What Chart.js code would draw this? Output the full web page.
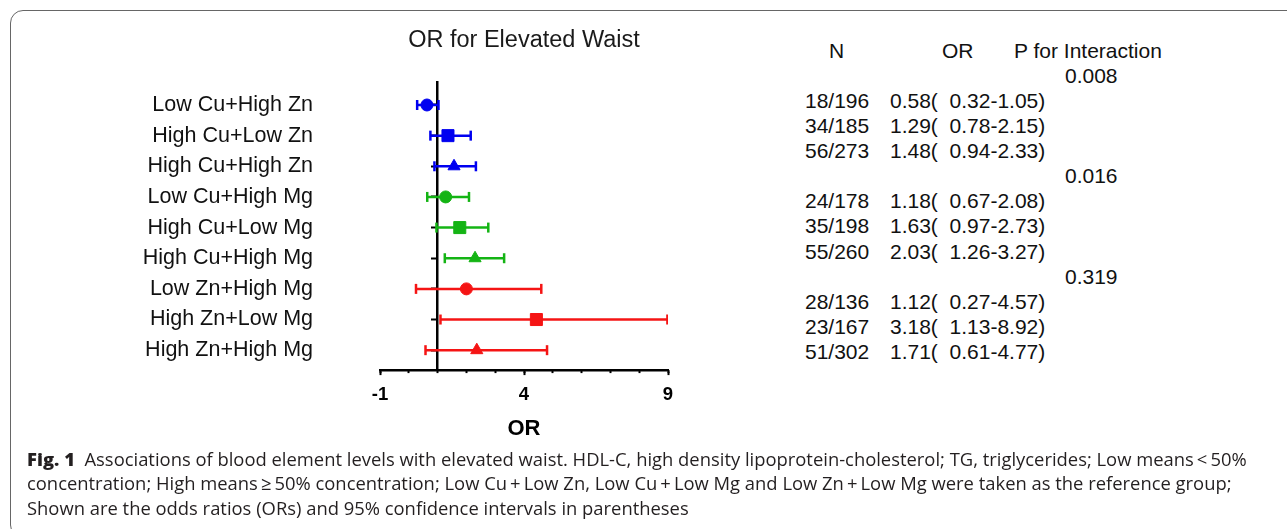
<!DOCTYPE html>
<html><head><meta charset="utf-8">
<script src="https://cdn.jsdelivr.net/npm/chart.js@4.4.0/dist/chart.umd.min.js"></script>
<style>
html,body{margin:0;padding:0;background:#fff;width:1287px;height:529px;overflow:hidden;position:relative;}
#frame{position:absolute;left:10px;top:10px;width:1320px;height:528px;border:1.5px solid #666;border-radius:13px;box-sizing:border-box;}
#wrap{position:absolute;left:0;top:0;width:700px;height:450px;}
#table{position:absolute;left:0;top:0;font-family:'Liberation Sans',Arial,sans-serif;font-size:21px;color:#111;}
.cell{position:absolute;white-space:pre;line-height:25.1px;}
#caption{position:absolute;left:27px;top:447px;font-family:'Open Sans',sans-serif;font-size:18.4px;color:#231f20;line-height:24.4px;}
#caption b{font-weight:800;}
.cl{white-space:nowrap;}
</style></head>
<body>
<div id="frame"></div>
<div id="wrap"><canvas id="c" width="700" height="450"></canvas></div>
<div id="table"></div>
<div id="caption"></div>
<script>
// ---- data ----
const rowLabels = ['Low Cu+High Zn','High Cu+Low Zn','High Cu+High Zn','Low Cu+High Mg','High Cu+Low Mg','High Cu+High Mg','Low Zn+High Mg','High Zn+Low Mg','High Zn+High Mg'];
const orValues = [0.63, 1.36, 1.57, 1.28, 1.77, 2.30, 2.00, 4.43, 2.36];
const ciLower  = [0.29, 0.75, 0.89, 0.64, 0.96, 1.25, 0.25, 1.10, 0.58];
const ciUpper  = [1.03, 2.15, 2.33, 2.09, 2.76, 3.31, 4.60, 8.98, 4.80];
const rowColors = ['#0000F0','#0000F0','#0000F0','#14B414','#14B414','#14B414','#F51414','#F51414','#F51414'];
const rowShapes = ['circle','rect','triangle','circle','rect','triangle','circle','rect','triangle'];
const xTickLabels = [-1, 4, 9];
const tableHeaders = ['N','OR','P for Interaction'];
const tableN  = ['18/196','34/185','56/273','24/178','35/198','55/260','28/136','23/167','51/302'];
const tableOR = ['0.58(  0.32-1.05)','1.29(  0.78-2.15)','1.48(  0.94-2.33)','1.18(  0.67-2.08)','1.63(  0.97-2.73)','2.03(  1.26-3.27)','1.12(  0.27-4.57)','3.18(  1.13-8.92)','1.71(  0.61-4.77)'];
const pInteraction = ['0.008','0.016','0.319'];
const captionLines = [
  '<b>Fig. 1</b>&nbsp;&nbsp;Associations of blood element levels with elevated waist. HDL-C, high density lipoprotein-cholesterol; TG, triglycerides; Low means&thinsp;&lt;&thinsp;50%',
  'concentration; High means&thinsp;≥&thinsp;50% concentration; Low Cu&thinsp;+&thinsp;Low Zn, Low Cu&thinsp;+&thinsp;Low Mg and Low Zn&thinsp;+&thinsp;Low Mg were taken as the reference group;',
  'Shown are the odds ratios (ORs) and 95% confidence intervals in parentheses'
];

// ---- chart ----
const FONT = "'Liberation Sans', Arial, sans-serif";
const rowTicks = s => { s.ticks = rowLabels.map((_, i) => ({ value: i + 1 })); };
const datasets = [{
  type: 'scatter', label: 'OR', yAxisID: 'y', order: 0,
  data: rowLabels.map((_, i) => ({ x: orValues[i], y: i + 1 })),
  pointStyle: rowShapes,
  pointRadius: rowShapes.map(s => s === 'rect' ? 8.5 : (s === 'triangle' ? 7 : 6)),
  backgroundColor: rowColors, borderColor: rowColors, borderWidth: 1
}];
rowLabels.forEach((_, i) => datasets.push({
  type: 'line', yAxisID: 'y', order: 1, fill: false,
  data: [{ x: ciLower[i], y: i + 1 }, { x: ciUpper[i], y: i + 1 }],
  borderColor: rowColors[i], borderWidth: 2.5,
  pointStyle: 'line', pointRotation: 90, pointRadius: 5, pointBorderWidth: 2.5,
  pointBorderColor: rowColors[i], pointBackgroundColor: rowColors[i]
}));

new Chart(document.getElementById('c'), {
  data: { datasets },
  options: {
    responsive: false, animation: false, devicePixelRatio: 1,
    layout: { padding: { left: 0, right: 32, top: 0, bottom: 0 } },
    plugins: {
      legend: { display: false }, tooltip: { enabled: false },
      title: { display: true, text: 'OR for Elevated Waist', fullSize: false, color: '#1a1a1a',
        font: { family: FONT, size: 23.5, weight: 'normal' }, padding: { top: 26, bottom: 27.8 } }
    },
    scales: {
      xMinor: { type: 'linear', axis: 'x', min: -1, max: 9, position: 'bottom', weight: -1,
        ticks: { display: false, stepSize: 1, autoSkip: false },
        grid: { drawOnChartArea: false, drawTicks: true, tickLength: 3, tickWidth: 2, tickColor: '#000' },
        border: { display: false },
        afterFit: s => { s.height = 0; }
      },
      x: { type: 'linear', min: -1, max: 9, position: 'bottom', weight: 0,
        afterBuildTicks: s => { s.ticks = xTickLabels.map(v => ({ value: v })); },
        ticks: { autoSkip: false, maxRotation: 0, padding: 9, color: '#000',
          font: { family: FONT, size: 18.5, weight: 'bold' } },
        grid: { drawOnChartArea: false, drawTicks: true, tickLength: 5, tickWidth: 2, tickColor: '#000' },
        border: { display: true, color: '#000', width: 2.5 },
        title: { display: true, text: 'OR', color: '#000', font: { family: FONT, size: 22, weight: 'bold' }, padding: { top: 0, bottom: 5.6 } },
        afterFit: s => { s.height = 78; }
      },
      y: { type: 'linear', reverse: true, min: 0.25, max: 9.65, position: { x: 1 }, z: 1,
        afterBuildTicks: rowTicks,
        ticks: { display: false },
        grid: { drawOnChartArea: false, drawTicks: true, tickLength: 5, tickWidth: 2, tickColor: '#000' },
        border: { display: true, color: '#000', width: 2.5 },
        afterFit: s => { s.width = 0; }
      },
      yL: { type: 'linear', reverse: true, min: 0.25, max: 9.65, position: 'left',
        afterBuildTicks: rowTicks,
        ticks: { padding: 67, color: '#111', font: { family: FONT, size: 21.5 }, callback: v => rowLabels[v - 1] },
        grid: { display: false, drawTicks: false }, border: { display: false },
        afterFit: s => { s.width = 380; }
      }
    }
  }
});

// ---- table ----
const tableEl = document.getElementById('table');
function cell(text, left, line) {
  const d = document.createElement('div');
  d.className = 'cell';
  d.textContent = text;
  d.style.left = left + 'px';
  d.style.top = (37.7 + line * 25.1) + 'px';
  tableEl.appendChild(d);
}
[829, 942, 1014].forEach((x, i) => cell(tableHeaders[i], x, 0));
pInteraction.forEach((p, g) => {
  cell(p, 1065, 1 + g * 4);
  for (let k = 0; k < 3; k++) {
    const r = g * 3 + k;
    cell(tableN[r], 805, 2 + g * 4 + k);
    cell(tableOR[r], 890, 2 + g * 4 + k);
  }
});

// ---- caption ----
const cap = document.getElementById('caption');
captionLines.forEach(t => { const d = document.createElement('div'); d.className = 'cl'; d.innerHTML = t; cap.appendChild(d); });
</script>
</body></html>
